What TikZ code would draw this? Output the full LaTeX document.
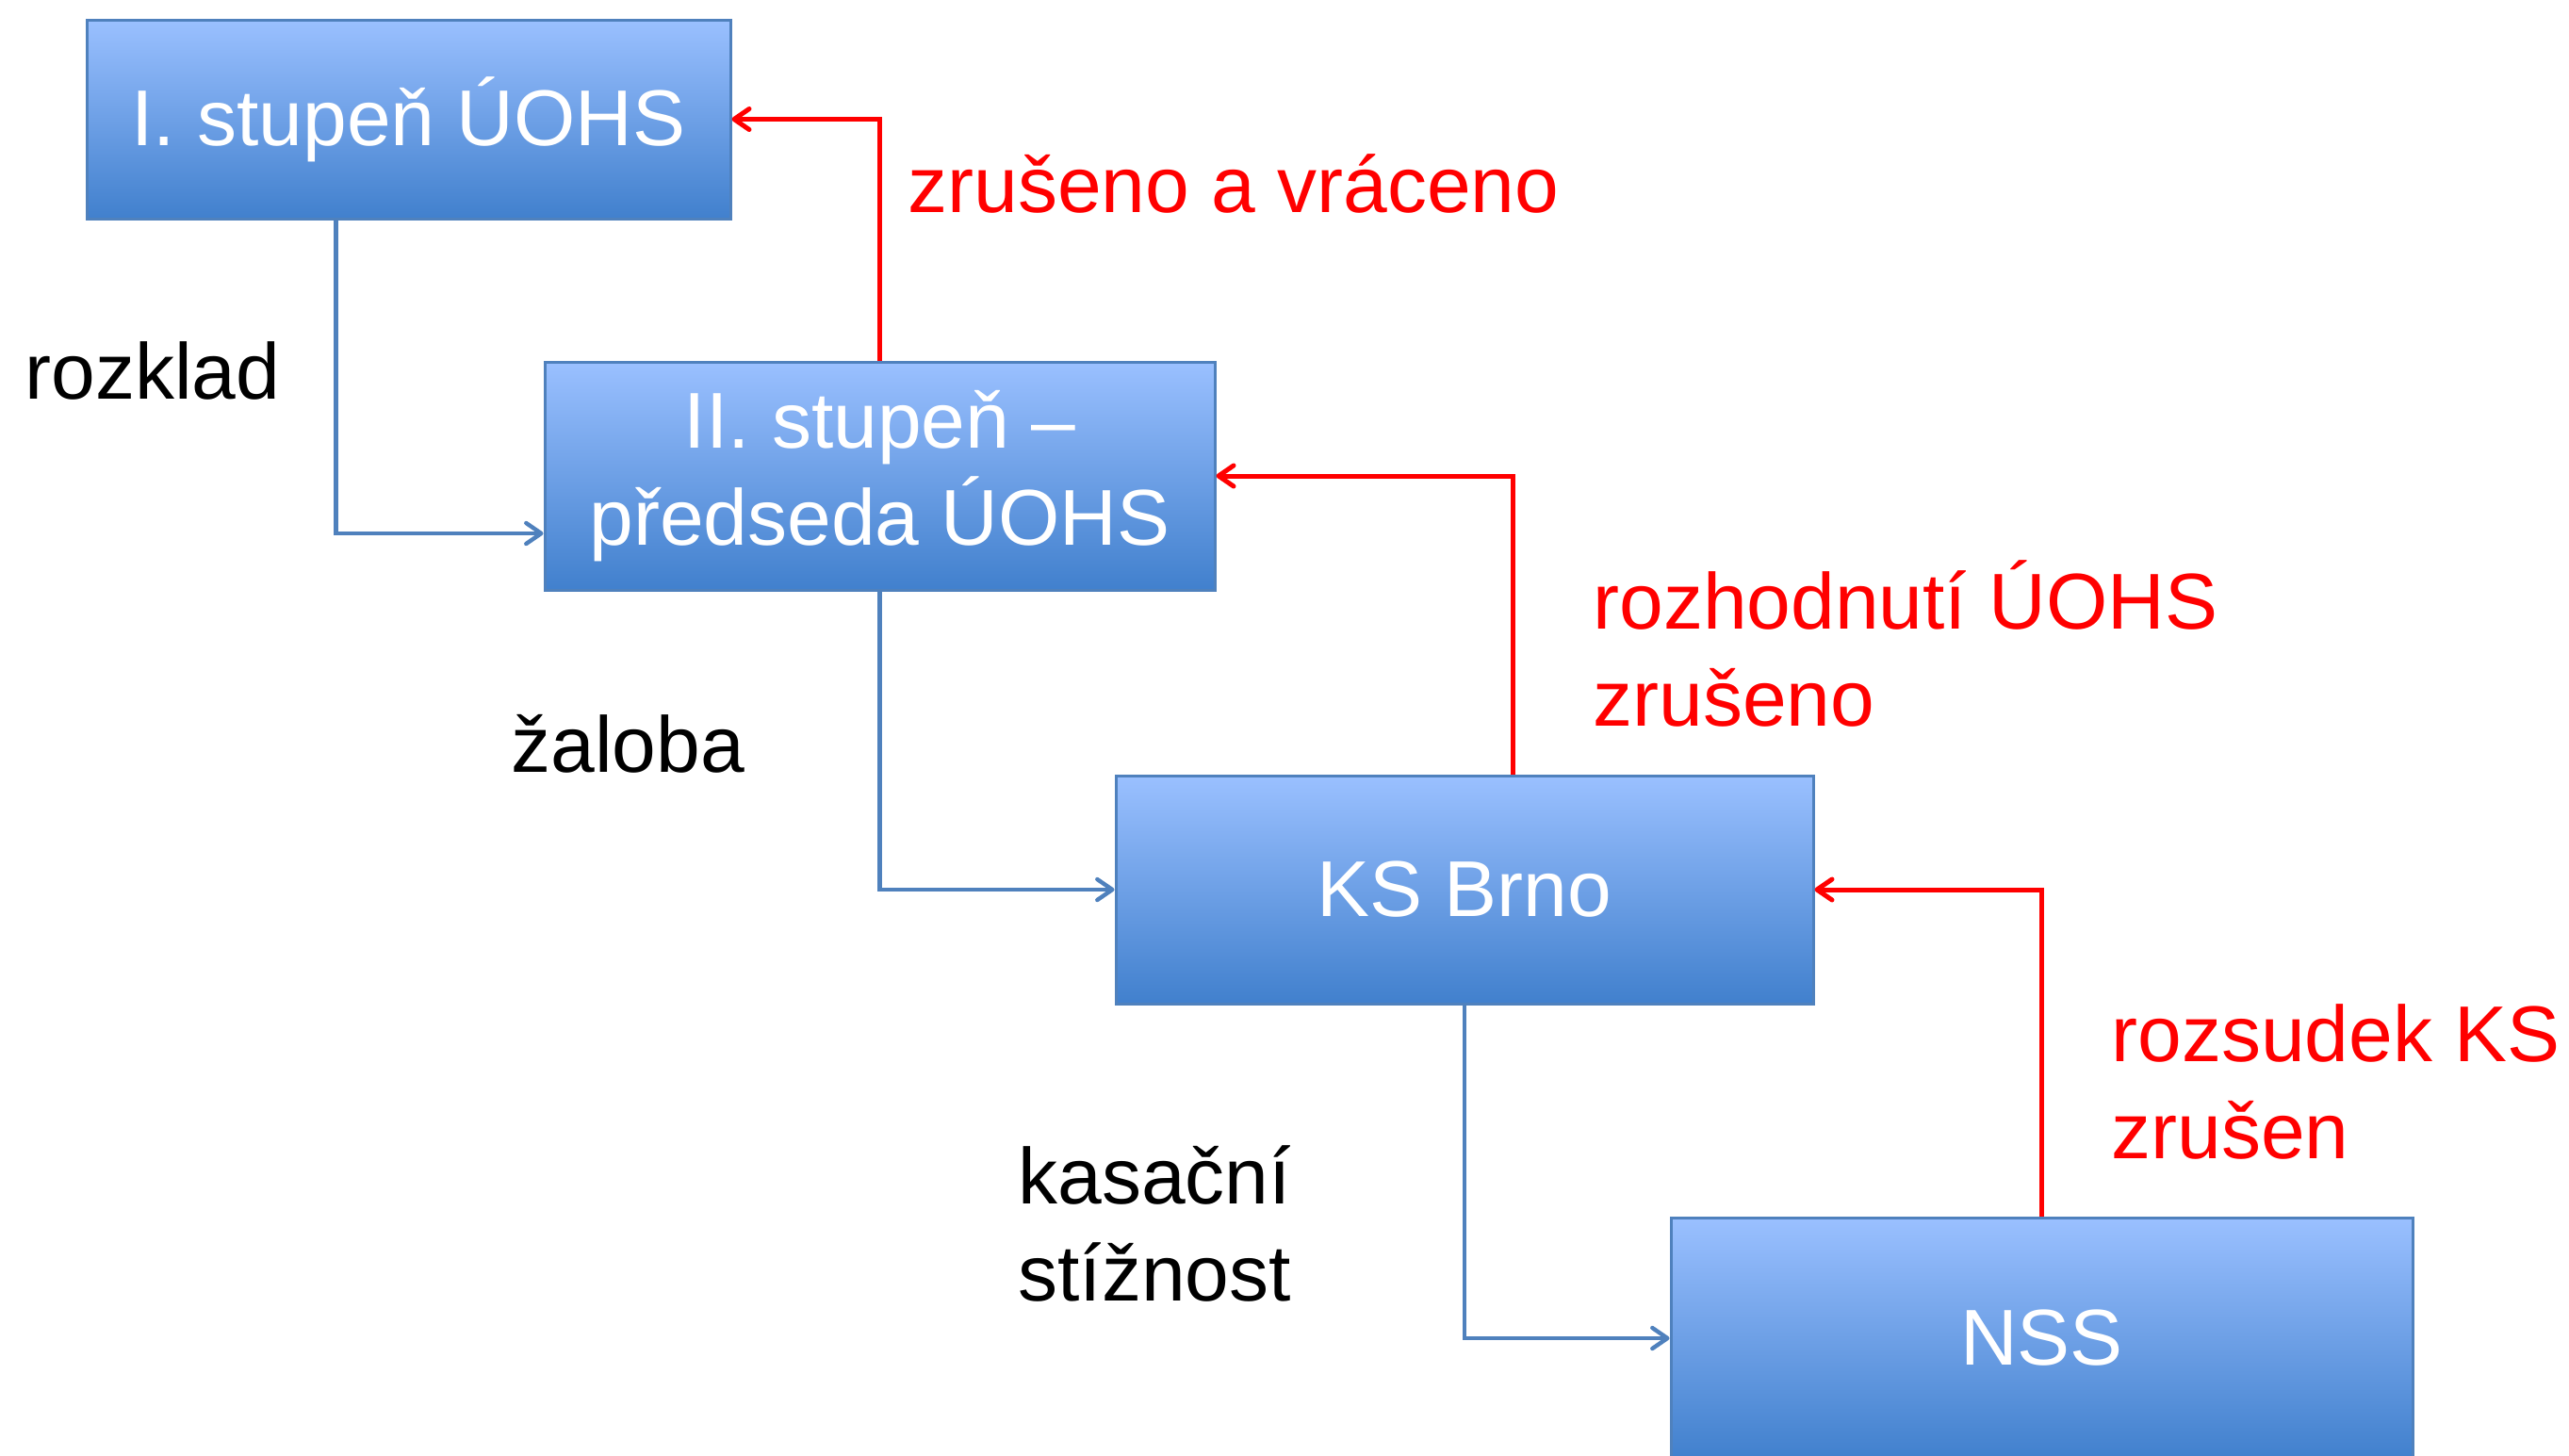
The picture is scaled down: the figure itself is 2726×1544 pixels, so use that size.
\documentclass[tikz,border=0pt]{standalone}
\usepackage{fontspec}
\setmainfont{Liberation Sans}
\usetikzlibrary{positioning,calc,arrows.meta}
\definecolor{boxtop}{RGB}{154,192,255}
\definecolor{boxbottom}{RGB}{65,128,205}
\definecolor{boxline}{RGB}{79,129,189}
\begin{document}
\begin{tikzpicture}[x=0.5pt, y=-0.5pt,
	font=\fontsize{42}{51.5}\selectfont,
	stage/.style={draw=boxline, line width=1.5pt, top color=boxtop, bottom color=boxbottom,
		text=white, align=center, inner sep=0pt},
	flow/.style={draw=boxline, line width=2.2pt, -{Straight Barb[length=8pt,width=11pt,round]}},
	back/.style={draw=red, line width=2.5pt, -{Straight Barb[length=8pt,width=11pt,round]}},
	note/.style={anchor=base west, align=left, inner sep=0pt}]

	\useasboundingbox (0,0) rectangle (2726,1544);

	\node[stage, minimum width=341.5pt, minimum height=105.5pt] (urad) at (433.5,126.5) {I. stupeň ÚOHS};
	\node[stage, minimum width=355.5pt, minimum height=121pt] (predseda) at (933.5,505) {II. stupeň --\\předseda ÚOHS};
	\node[stage, minimum width=370pt, minimum height=121pt] (ks) at (1554,944) {KS Brno};
	\node[stage, minimum width=393.5pt, minimum height=128pt] (nss) at (2166.5,1420) {NSS};

	\draw[flow] ($(urad.south west)+(266,0)$) |- ($(predseda.west)+(0,61)$);
	\draw[flow] (predseda.south) |- (ks.west);
	\draw[flow] (ks.south) |- (nss.west);

	\draw[back] (predseda.north) |- (urad.east);
	\draw[back] ($(ks.north)+(51,0)$) |- (predseda.east);
	\draw[back] (nss.north) |- (ks.east);

	\node[note] (rozklad) at (26,423) {rozklad};
	\node[note] (zaloba) at (542,819) {žaloba};
	\node[note] (kasacni) at (1080,1380) {kasační\\stížnost};
	\node[note, text=red] (vraceno) at (963,225) {zrušeno a vráceno};
	\node[note, text=red] (zruseno) at (1690,770) {rozhodnutí ÚOHS\\zrušeno};
	\node[note, text=red] (zrusen) at (2240,1229) {rozsudek KS\\zrušen};

\end{tikzpicture}
\end{document}
